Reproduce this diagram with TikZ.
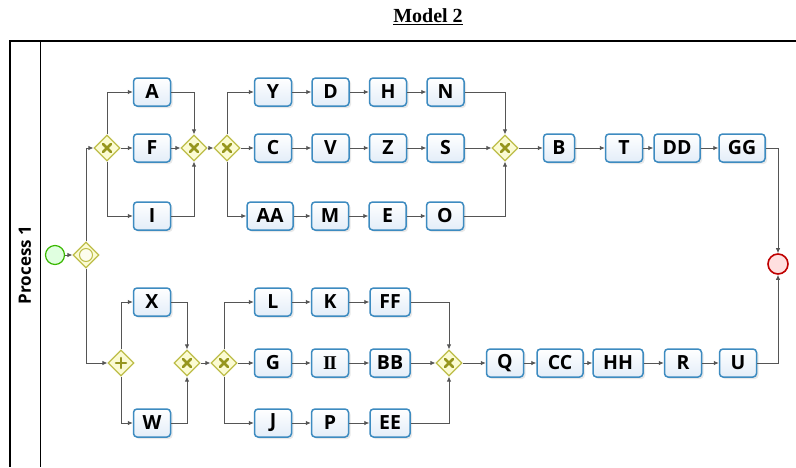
\documentclass[tikz,border=0pt]{standalone}
\usepackage{fontspec}
\setmainfont{Liberation Serif}
\setsansfont{Open Sans}
\usepackage{tikz}
\usetikzlibrary{shapes.geometric,positioning}
\usetikzlibrary{arrows.meta,shadows}

\definecolor{taskline}{HTML}{3D8BC0}
\definecolor{taskfill}{HTML}{E3EDF8}
\definecolor{gateline}{HTML}{BDBD48}
\definecolor{gatefill}{HTML}{FBFBD3}
\definecolor{gatemark}{HTML}{96961E}
\definecolor{flowline}{HTML}{555555}

\tikzstyle{task} = [rectangle, rounded corners=3.5pt, draw=taskline, line width=1.5pt,
    top color=white, bottom color=taskfill, minimum width=37pt, minimum height=28pt,
    inner xsep=4pt, font=\sffamily\bfseries\fontsize{19.5}{21}\selectfont,
    drop shadow={opacity=0.18, shadow xshift=2pt, shadow yshift=-2pt}]
\tikzstyle{wide} = [minimum width=46pt]
\tikzstyle{gate} = [diamond, draw=gateline, fill=gatefill, line width=1.2pt,
    minimum width=26pt, minimum height=26pt, inner sep=0pt]
\tikzstyle{xor} = [gate, path picture={
    \draw[gatemark, line width=2.6pt, line cap=round]
      ([shift={(-4pt,-4pt)}]path picture bounding box.center) -- ++(8pt,8pt)
      ([shift={(-4pt,4pt)}]path picture bounding box.center) -- ++(8pt,-8pt);}]
\tikzstyle{and} = [gate, path picture={
    \draw[gatemark, line width=2.6pt, line cap=round]
      ([shift={(-5pt,0pt)}]path picture bounding box.center) -- ++(10pt,0pt)
      ([shift={(0pt,-5pt)}]path picture bounding box.center) -- ++(0pt,10pt);}]
\tikzstyle{or} = [gate, path picture={
    \draw[gateline, fill=white!60!gatefill, line width=1pt]
      (path picture bounding box.center) circle (6.5pt);}]
\tikzstyle{startev} = [circle, draw=green!60!black!70!lime, fill=green!12, line width=1.2pt, minimum size=19pt]
\tikzstyle{endev} = [circle, draw=red!75!black, fill=red!12, line width=1.6pt, minimum size=20pt]
\tikzstyle{line} = [draw=flowline, line width=0.8pt, -{Latex[length=5pt,width=4.5pt]}]

\begin{document}
\begin{tikzpicture}[x=1pt,y=-1pt,node distance=57.5pt]
    \useasboundingbox (0,0) rectangle (796,467);
    % Title and pool
    \node[font=\bfseries\fontsize{20}{22}\selectfont] (title) at (428,17) {\underline{Model 2}};
    \draw[line width=1.2pt] (796,41) -- (10,41) -- (10,467);
    \draw[line width=1pt] (40,41) -- (40,467);
    \node[rotate=90, font=\sffamily\bfseries\fontsize{17}{20}\selectfont] (lane) at (25,265) {Process 1};

    % Start
    \node[startev] (start) at (55,255) {};
    \node[or] (gwstart) at (86,255) {};

    % Upper block
    \node[xor] (xa) at (107,148) {};
    \node[task] (A) at (152,92) {A};
    \node[task] (F) at (152,148) {F};
    \node[task] (I) at (152,216) {I};
    \node[xor] (xb) at (194,148) {};
    \node[xor] (xc) at (227,148) {};

    \node[task] (Y) at (273,92) {Y};
    \node[task, right of=Y] (D) {D};
    \node[task, right of=D] (H) {H};
    \node[task, right of=H] (N) {N};
    \node[task] (C) at (273,148) {C};
    \node[task, right of=C] (V) {V};
    \node[task, right of=V] (Z) {Z};
    \node[task, right of=Z] (S) {S};
    \node[task, wide] (AA) at (270,216) {AA};
    \node[task] (M) at (330,216) {M};
    \node[task, right of=M] (E) {E};
    \node[task, right of=E] (O) {O};

    \node[xor] (xd) at (505,148) {};
    \node[task, minimum width=31pt] (B) at (559,148) {B};
    \node[task] (T) at (624,148) {T};
    \node[task, wide] (DD) at (677,148) {DD};
    \node[task, wide] (GG) at (742,148) {GG};
    \node[endev] (end) at (778,264) {};

    % Lower block
    \node[and] (pa) at (121,363) {};
    \node[task] (X) at (152,302) {X};
    \node[task] (W) at (152,423) {W};
    \node[xor] (xe) at (187,363) {};
    \node[xor] (xf) at (224,363) {};

    \node[task] (L) at (273,302) {L};
    \node[task, node distance=57pt, right of=L] (K) {K};
    \node[task, minimum width=40pt, node distance=60pt, right of=K] (FF) {FF};
    \node[task] (G) at (273,363) {G};
    \node[task, node distance=57pt, right of=G] (II) {\rmfamily I\kern-1.2ptI};
    \node[task, minimum width=40pt, node distance=60pt, right of=II] (BB) {BB};
    \node[task] (J) at (273,423) {J};
    \node[task, node distance=57pt, right of=J] (P) {P};
    \node[task, minimum width=40pt, node distance=60pt, right of=P] (EE) {EE};

    \node[xor] (xg) at (449,363) {};
    \node[task] (Q) at (505,363) {Q};
    \node[task, wide] (CC) at (560,363) {CC};
    \node[task, minimum width=50pt] (HH) at (618,363) {HH};
    \node[task] (R) at (683,363) {R};
    \node[task] (U) at (738,363) {U};

    % Draw edges
    \path [line] (start) -- (gwstart);
    \path [line] (gwstart) |- (xa);
    \path [line] (gwstart) |- (pa);

    \path [line] (xa) |- (A);
    \path [line] (xa) -- (F);
    \path [line] (xa) |- (I);
    \path [line] (A) -| (xb);
    \path [line] (F) -- (xb);
    \path [line] (I) -| (xb);
    \path [line] (xb) -- (xc);
    \path [line] (xc) |- (Y);
    \path [line] (xc) -- (C);
    \path [line] (xc) |- (AA);
    \path [line] (Y) -- (D);
    \path [line] (D) -- (H);
    \path [line] (H) -- (N);
    \path [line] (C) -- (V);
    \path [line] (V) -- (Z);
    \path [line] (Z) -- (S);
    \path [line] (AA) -- (M);
    \path [line] (M) -- (E);
    \path [line] (E) -- (O);
    \path [line] (N) -| (xd);
    \path [line] (S) -- (xd);
    \path [line] (O) -| (xd);
    \path [line] (xd) -- (B);
    \path [line] (B) -- (T);
    \path [line] (T) -- (DD);
    \path [line] (DD) -- (GG);
    \path [line] (GG) -| (end);

    \path [line] (pa) |- (X);
    \path [line] (pa) |- (W);
    \path [line] (X) -| (xe);
    \path [line] (W) -| (xe);
    \path [line] (xe) -- (xf);
    \path [line] (xf) |- (L);
    \path [line] (xf) -- (G);
    \path [line] (xf) |- (J);
    \path [line] (L) -- (K);
    \path [line] (K) -- (FF);
    \path [line] (G) -- (II);
    \path [line] (II) -- (BB);
    \path [line] (J) -- (P);
    \path [line] (P) -- (EE);
    \path [line] (FF) -| (xg);
    \path [line] (BB) -- (xg);
    \path [line] (EE) -| (xg);
    \path [line] (xg) -- (Q);
    \path [line] (Q) -- (CC);
    \path [line] (CC) -- (HH);
    \path [line] (HH) -- (R);
    \path [line] (R) -- (U);
    \path [line] (U) -| (end);
\end{tikzpicture}
\end{document}
